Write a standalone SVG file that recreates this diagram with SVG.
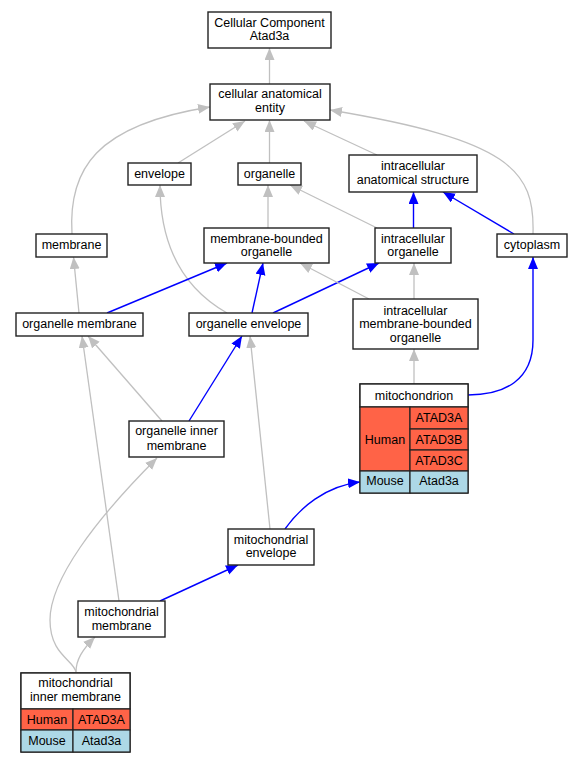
<svg xmlns="http://www.w3.org/2000/svg" width="580" height="763" viewBox="0 0 580 763">
<style>
text{font-family:"Liberation Sans",Arial,sans-serif;font-size:12.5px;fill:#000;text-anchor:middle}
.box{fill:#fff;stroke:#222;stroke-width:1.4}
.hu{fill:#ff6347;stroke:#222;stroke-width:1.2}
.mo{fill:#add8e6;stroke:#222;stroke-width:1.2}
.g{fill:none;stroke:#c0c0c0;stroke-width:1.3;marker-end:url(#ag)}
.b{fill:none;stroke:#0000ff;stroke-width:1.4;marker-end:url(#ab)}
</style>
<defs>
<marker id="ag" markerUnits="userSpaceOnUse" markerWidth="13" markerHeight="11" refX="12" refY="5" orient="auto"><path d="M0,0 L12,5 L0,10 z" fill="#c0c0c0"/></marker>
<marker id="ab" markerUnits="userSpaceOnUse" markerWidth="13" markerHeight="11" refX="12" refY="5" orient="auto"><path d="M0,0 L12,5 L0,10 z" fill="#0000ff"/></marker>
</defs>
<rect width="580" height="763" fill="#fff"/>
<g id="edges">
<path class="g" d="M269.5,84 L269.5,48"/>
<path class="g" d="M178,163 L245,121"/>
<path class="g" d="M269.5,163 L269.5,120"/>
<path class="g" d="M377,155 L304,121"/>
<path class="g" d="M72,234 C68,170 95,125 210,107"/>
<path class="g" d="M533,234 C535,170 510,140 330,110"/>
<path class="b" d="M413.5,228 L413.5,192"/>
<path class="b" d="M514,234 L443,192"/>
<path class="g" d="M268,228 L268,185"/>
<path class="g" d="M377,228 L290,185"/>
<path class="g" d="M227,313 C190,292 160,255 160,185"/>
<path class="g" d="M79,313 L73.5,257"/>
<path class="b" d="M107,313 L227,263"/>
<path class="b" d="M252,313 L263,263"/>
<path class="b" d="M273,313 L379,263"/>
<path class="g" d="M369,299 L300,263"/>
<path class="g" d="M414,299 L414,263"/>
<path class="g" d="M414,384 L414,349"/>
<path class="b" d="M468,395 C505,395 533,380 533,340 L533,257"/>
<path class="g" d="M119,601 L82,336"/>
<path class="g" d="M162,421 L88,336"/>
<path class="b" d="M189,421 L242,336"/>
<path class="g" d="M270,529 L250,336"/>
<path class="g" d="M76,672 C74,660 50,655 50,620 C50,580 95,520 157,458"/>
<path class="g" d="M76,672 C76,660 82,650 95,637"/>
<path class="b" d="M160,601 L238,565"/>
<path class="b" d="M285,529 C300,508 325,486 360,482"/>
</g>
<g id="n_root"><rect class="box" x="208" y="12" width="123" height="36"/><text x="269.5" y="26.5">Cellular Component</text><text x="269.5" y="40">Atad3a</text></g>
<g id="n_cae"><rect class="box" x="210" y="84" width="120" height="36"/><text x="270" y="98">cellular anatomical</text><text x="270" y="111.5">entity</text></g>
<g id="n_envelope"><rect class="box" x="128" y="163" width="63" height="22"/><text x="159.5" y="177.5">envelope</text></g>
<g id="n_organelle"><rect class="box" x="238" y="163" width="63" height="22"/><text x="269.5" y="177.5">organelle</text></g>
<g id="n_ias"><rect class="box" x="349" y="155" width="128" height="37"/><text x="413" y="170">intracellular</text><text x="413" y="183.5">anatomical structure</text></g>
<g id="n_membrane"><rect class="box" x="36" y="234" width="71" height="23"/><text x="71.5" y="249">membrane</text></g>
<g id="n_mbo"><rect class="box" x="204" y="228" width="125" height="35"/><text x="266.5" y="243">membrane-bounded</text><text x="266.5" y="256">organelle</text></g>
<g id="n_io"><rect class="box" x="375" y="228" width="76" height="35"/><text x="413" y="243">intracellular</text><text x="413" y="256">organelle</text></g>
<g id="n_cytoplasm"><rect class="box" x="497" y="234" width="70" height="23"/><text x="532" y="249">cytoplasm</text></g>
<g id="n_om"><rect class="box" x="16" y="313" width="127" height="23"/><text x="79.5" y="328">organelle membrane</text></g>
<g id="n_oe"><rect class="box" x="189" y="313" width="119" height="23"/><text x="248.5" y="328">organelle envelope</text></g>
<g id="n_imbo"><rect class="box" x="353" y="299" width="125" height="50"/><text x="415.5" y="314.5">intracellular</text><text x="415.5" y="328">membrane-bounded</text><text x="415.5" y="341.5">organelle</text></g>
<g id="n_mito">
<rect class="box" x="360" y="384" width="108" height="109"/>
<rect class="box" x="360" y="384" width="108" height="23"/>
<text x="414" y="399.5">mitochondrion</text>
<rect class="hu" x="360" y="407" width="50" height="64"/>
<rect class="hu" x="410" y="407" width="58" height="22"/>
<rect class="hu" x="410" y="429" width="58" height="21"/>
<rect class="hu" x="410" y="450" width="58" height="21"/>
<rect class="mo" x="360" y="471" width="50" height="22"/>
<rect class="mo" x="410" y="471" width="58" height="22"/>
<text x="385" y="443.8">Human</text>
<text x="439" y="421.8">ATAD3A</text>
<text x="439" y="443.8">ATAD3B</text>
<text x="439" y="464.5">ATAD3C</text>
<text x="385" y="484.5">Mouse</text>
<text x="439" y="484.5">Atad3a</text>
</g>
<g id="n_oim"><rect class="box" x="129" y="421" width="95" height="36"/><text x="176.5" y="435">organelle inner</text><text x="176.5" y="449.5">membrane</text></g>
<g id="n_me"><rect class="box" x="228" y="529" width="86" height="36"/><text x="271" y="543.5">mitochondrial</text><text x="271" y="557">envelope</text></g>
<g id="n_mm"><rect class="box" x="78" y="601" width="87" height="36"/><text x="121.5" y="615.5">mitochondrial</text><text x="121.5" y="629.5">membrane</text></g>
<g id="n_mim">
<rect class="box" x="21" y="673" width="109" height="79"/>
<rect class="box" x="21" y="673" width="109" height="36"/>
<text x="75.5" y="687">mitochondrial</text>
<text x="75.5" y="701">inner membrane</text>
<rect class="hu" x="21" y="709" width="52" height="21"/>
<rect class="hu" x="73" y="709" width="57" height="21"/>
<rect class="mo" x="21" y="730" width="52" height="22"/>
<rect class="mo" x="73" y="730" width="57" height="22"/>
<text x="47" y="723.5">Human</text>
<text x="101.5" y="723.5">ATAD3A</text>
<text x="47" y="744.5">Mouse</text>
<text x="101.5" y="744.5">Atad3a</text>
</g>
</svg>
